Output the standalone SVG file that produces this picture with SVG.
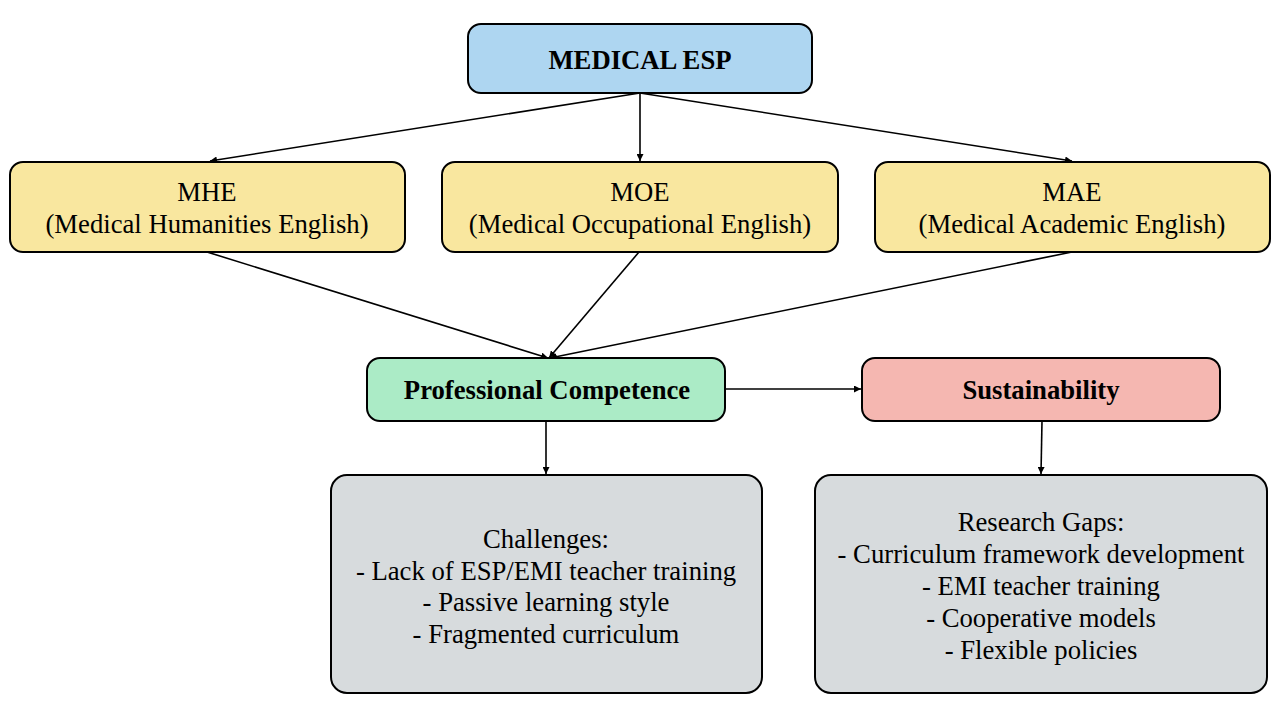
<svg xmlns="http://www.w3.org/2000/svg" width="1280" height="720" viewBox="0 0 1280 720">
<style>
.box{stroke:#000;stroke-width:2}
.t{font-family:"Liberation Serif","Times New Roman",serif;font-size:26.7px;fill:#000;text-anchor:middle}
.b{font-weight:bold}
.c{stroke:#000;stroke-width:1.6;fill:none;marker-end:url(#ah)}
</style>
<defs>
<marker id="ah" viewBox="0 0 10 10" refX="10" refY="5" markerWidth="7" markerHeight="7" markerUnits="userSpaceOnUse" orient="auto"><path d="M0,0 L10,5 L0,10 z" fill="#000"/></marker>
</defs>
<rect width="1280" height="720" fill="#fff"/>
<g id="connectors">
<line class="c" x1="640" y1="93" x2="210" y2="161"/>
<line class="c" x1="640" y1="93" x2="640" y2="161"/>
<line class="c" x1="640" y1="93" x2="1072" y2="161"/>
<line class="c" x1="207" y1="252" x2="548" y2="358"/>
<line class="c" x1="639" y1="252" x2="549" y2="358"/>
<line class="c" x1="1072" y1="252" x2="550" y2="358"/>
<line class="c" x1="725" y1="389" x2="861" y2="389"/>
<line class="c" x1="546" y1="421" x2="546" y2="474"/>
<line class="c" x1="1042" y1="421" x2="1041" y2="474"/>
</g>
<g id="medical-esp">
<rect class="box" x="468" y="24" width="344" height="69" rx="13" fill="#aed6f1"/>
<text class="t b" x="640" y="69">MEDICAL ESP</text>
</g>
<g id="mhe">
<rect class="box" x="10" y="162" width="395" height="90" rx="13" fill="#f9e79f"/>
<text class="t" x="207" y="201">MHE</text>
<text class="t" x="207" y="233">(Medical Humanities English)</text>
</g>
<g id="moe">
<rect class="box" x="442" y="162" width="396" height="90" rx="13" fill="#f9e79f"/>
<text class="t" x="640" y="201">MOE</text>
<text class="t" x="640" y="233">(Medical Occupational English)</text>
</g>
<g id="mae">
<rect class="box" x="875" y="162" width="395" height="90" rx="13" fill="#f9e79f"/>
<text class="t" x="1072" y="201">MAE</text>
<text class="t" x="1072" y="233">(Medical Academic English)</text>
</g>
<g id="professional-competence">
<rect class="box" x="367" y="358" width="358" height="63" rx="13" fill="#abebc6"/>
<text class="t b" x="547" y="399">Professional Competence</text>
</g>
<g id="sustainability">
<rect class="box" x="862" y="358" width="358" height="63" rx="13" fill="#f5b7b1"/>
<text class="t b" x="1041" y="399">Sustainability</text>
</g>
<g id="challenges">
<rect class="box" x="331" y="475" width="431" height="218" rx="16" fill="#d7dbdd"/>
<text class="t" x="546" y="548">Challenges:</text>
<text class="t" x="546" y="580">- Lack of ESP/EMI teacher training</text>
<text class="t" x="546" y="611">- Passive learning style</text>
<text class="t" x="546" y="643">- Fragmented curriculum</text>
</g>
<g id="research-gaps">
<rect class="box" x="815" y="475" width="452" height="218" rx="16" fill="#d7dbdd"/>
<text class="t" x="1041" y="531">Research Gaps:</text>
<text class="t" x="1041" y="563">- Curriculum framework development</text>
<text class="t" x="1041" y="595">- EMI teacher training</text>
<text class="t" x="1041" y="627">- Cooperative models</text>
<text class="t" x="1041" y="659">- Flexible policies</text>
</g>
</svg>
